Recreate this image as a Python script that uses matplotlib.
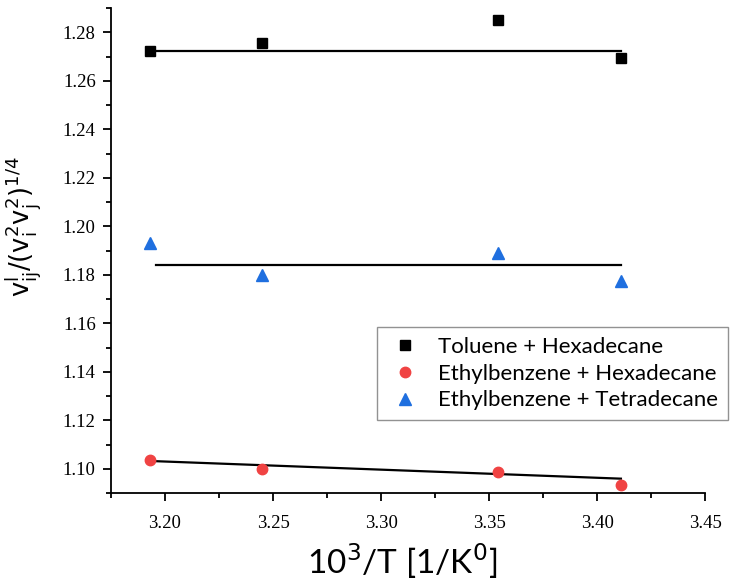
import matplotlib
matplotlib.use('Agg')
import matplotlib.pyplot as plt
from matplotlib.ticker import MultipleLocator
import numpy as np

# data
T_inv = [3.193, 3.245, 3.354, 3.411]
toluene_hexadecane = [1.2722, 1.2755, 1.2850, 1.2695]
ethylbenzene_hexadecane = [1.1037, 1.1000, 1.0988, 1.0935]
ethylbenzene_tetradecane = [1.1930, 1.1800, 1.1890, 1.1777]

# fitted lines (start / end values)
fit_x_th = [3.193, 3.411]
fit_th = [1.2725, 1.2725]
fit_x_eh = [3.193, 3.411]
fit_eh = [1.1033, 1.0960]
fit_x_et = [3.196, 3.411]
fit_et = [1.1843, 1.1843]

labels = ['Toluene + Hexadecane', 'Ethylbenzene + Hexadecane', 'Ethylbenzene + Tetradecane']

fig = plt.figure(figsize=(7.30, 5.83), dpi=100)
ax = fig.add_axes([0.152, 0.154, 0.814, 0.832])

ax.plot(fit_x_th, fit_th, color='black', lw=1.6)
ax.plot(fit_x_et, fit_et, color='black', lw=1.6)
ax.plot(fit_x_eh, fit_eh, color='black', lw=1.6)

ax.plot(T_inv, toluene_hexadecane, 's', color='black', ms=7, ls='none', label=labels[0])
ax.plot(T_inv, ethylbenzene_hexadecane, 'o', color='#f04343', ms=7.5, ls='none', label=labels[1])
ax.plot(T_inv, ethylbenzene_tetradecane, '^', color='#1f6fdf', ms=8, ls='none', label=labels[2])

ax.set_xlim(3.175, 3.45)
ax.set_ylim(1.09, 1.29)
ax.xaxis.set_major_locator(MultipleLocator(0.05))
ax.xaxis.set_minor_locator(MultipleLocator(0.025))
ax.yaxis.set_major_locator(MultipleLocator(0.02))
ax.yaxis.set_minor_locator(MultipleLocator(0.01))
ax.spines['top'].set_visible(False)
ax.spines['right'].set_visible(False)
ax.spines['left'].set_linewidth(1.3)
ax.spines['bottom'].set_linewidth(1.3)
ax.tick_params(which='major', direction='out', length=6, width=1.3)
ax.tick_params(which='minor', direction='out', length=3.5, width=1.3)
ax.tick_params(axis='x', pad=10)
ax.tick_params(axis='y', pad=5)
ax.set_xticklabels(['%.2f' % v for v in ax.get_xticks()])
ax.set_yticklabels(['%.2f' % v for v in ax.get_yticks()])
for lab in ax.get_xticklabels() + ax.get_yticklabels():
    lab.set_fontfamily('Liberation Serif')
    lab.set_fontsize(13.5)

ax.set_xlabel(r'10$^{3}$/T [1/K$^{0}$]', fontsize=24, fontfamily='Lato')
ax.xaxis.set_label_coords(0.49, -0.098)
ax.set_ylabel(r'$\mathsf{v_{ij}^{l}/(v_i^{2}v_j^{2})^{1/4}}$', fontsize=18.5)
ax.yaxis.set_label_coords(-0.115, 0.55)

leg = ax.legend(loc='upper left', bbox_to_anchor=(377 / 730, 1 - 327 / 583), bbox_transform=fig.transFigure,
                borderaxespad=0, prop={'family': 'Lato', 'size': 16},
                frameon=True, fancybox=False, edgecolor='#777777', handletextpad=0.7,
                borderpad=0.45, labelspacing=0.3, handlelength=1.6)
leg.get_frame().set_linewidth(1.0)

fig.savefig('out.png', dpi=100)
